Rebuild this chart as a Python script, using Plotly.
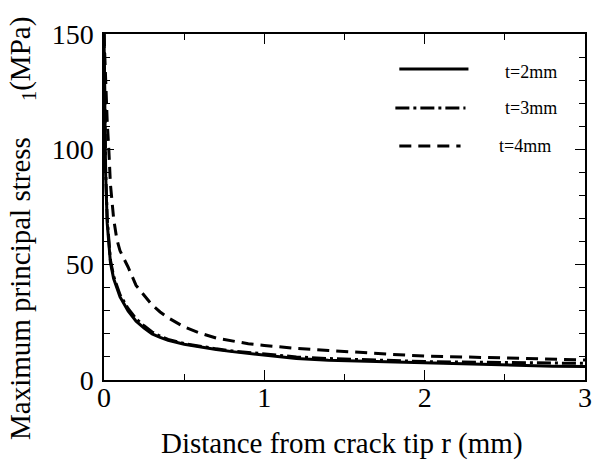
import plotly.graph_objects as go

# distance from crack tip r (mm)
r = [0, 0.005, 0.01, 0.02, 0.03, 0.04, 0.06, 0.08, 0.1, 0.15, 0.2, 0.25, 0.3,
     0.35, 0.4, 0.5, 0.6, 0.7, 0.8, 0.9, 1.0, 1.2, 1.4, 1.6, 1.8, 2.0, 2.2,
     2.4, 2.6, 2.8, 3.0]

# maximum principal stress (MPa)
s_t2 = [150, 115, 90, 68, 58, 51, 44, 39.5, 36, 30, 25.5, 22.5, 20, 18.5,
        17.2, 15.5, 14.3, 13.2, 12.3, 11.6, 10.8, 9.3, 8.6, 8.2, 7.8, 7.5,
        7.2, 6.8, 6.5, 6.0, 5.8]
s_t3 = [150, 118, 92, 70, 59, 52, 45, 40.5, 37, 31, 26.5, 23.5, 20.8, 19.0,
        17.6, 15.8, 14.6, 13.5, 12.6, 11.9, 11.2, 10.0, 9.3, 8.8, 8.4, 8.0,
        7.8, 7.6, 7.4, 7.3, 7.2]
s_t4 = [150, 140, 128, 112, 100, 85, 70, 61, 56, 49, 41, 36.5, 32.5, 29.5,
        27, 23, 20.3, 18.2, 16.8, 15.7, 15.0, 13.7, 12.8, 11.8, 11.1, 10.4,
        10.0, 9.6, 9.2, 8.9, 8.7]

series_names = ["t=2mm", "t=3mm", "t=4mm"]
series_vals = [s_t2, s_t3, s_t4]
dashes = ["solid", "14px,4px,3px,4px", "12px,7px"]

x_ticks = [0, 1, 2, 3]
y_ticks = [0, 50, 100, 150]

FONT = "Liberation Serif, Times New Roman, Times, serif"

fig = go.Figure()
for name, vals, d in zip(series_names, series_vals, dashes):
    fig.add_trace(go.Scatter(x=r, y=vals, mode="lines", name=name,
                             line=dict(color="black", width=3, dash=d),
                             showlegend=False))

# plot area in pixels: left 104, right 591, top 34, bottom 380
L, R, T, B = 104, 591, 34, 380
W, H = R - L, B - T

def px(xp):
    return (xp - L) / W

def py(yp):
    return (B - yp) / H

# manual legend
leg = [(403, 473, 69, 508, 72), (399, 470, 108, 508, 108), (403, 465, 146, 502, 146)]
for (x0, x1, yl, xt, yt), name, d in zip(leg, series_names, dashes):
    fig.add_shape(type="line", xref="paper", yref="paper",
                  x0=px(x0), x1=px(x1), y0=py(yl), y1=py(yl),
                  line=dict(color="black", width=3, dash=d))
    fig.add_annotation(xref="paper", yref="paper", x=px(xt), y=py(yt),
                       text=name, showarrow=False, xanchor="left",
                       yanchor="middle", font=dict(family=FONT, size=18, color="black"))

# axis titles
fig.add_annotation(xref="paper", yref="paper", x=px(345), y=py(443),
                   text="Distance from crack tip r (mm)", showarrow=False,
                   xanchor="center", yanchor="middle",
                   font=dict(family=FONT, size=29, color="black"))
fig.add_annotation(xref="paper", yref="paper", x=px(21), y=py(229),
                   text="Maximum principal stress \u2003<sub>1</sub>(MPa)", showarrow=False,
                   textangle=-90, xanchor="center", yanchor="middle",
                   font=dict(family=FONT, size=29, color="black"))

axis_common = dict(showgrid=False, zeroline=False, showline=True, linecolor="black",
                   linewidth=1.5, mirror="ticks", ticks="inside", ticklen=10,
                   tickwidth=1.2, tickcolor="black",
                   tickfont=dict(family=FONT, size=28, color="black"))

fig.update_xaxes(range=[0, 3], tickvals=x_ticks, ticktext=[str(v) for v in x_ticks],
                 minor=dict(ticks="inside", ticklen=6, tickvals=[0.5, 1.5, 2.5],
                            tickcolor="black", tickwidth=1.2),
                 ticklabelstandoff=-8,
                 **axis_common)
fig.update_yaxes(range=[0, 150], tickvals=y_ticks, ticktext=[str(v) for v in y_ticks],
                 minor=dict(ticks="inside", ticklen=6, dtick=10,
                            tickcolor="black", tickwidth=1.2),
                 ticklabelstandoff=3,
                 **axis_common)

fig.update_layout(width=604, height=464, margin=dict(l=L, r=604 - R, t=T, b=464 - B),
                  plot_bgcolor="white", paper_bgcolor="white",
                  font=dict(family=FONT, color="black"))

fig.write_html("out.html")
